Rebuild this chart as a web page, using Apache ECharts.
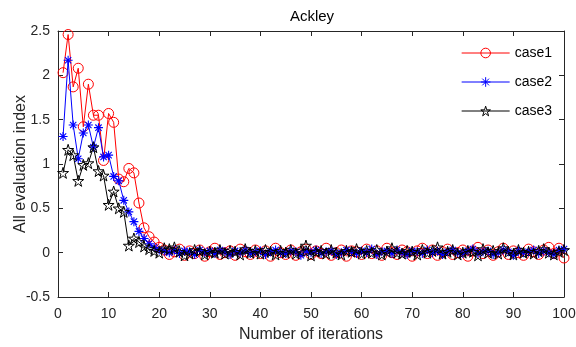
<!DOCTYPE html>
<html>
<head>
<meta charset="utf-8">
<script src="https://cdn.jsdelivr.net/npm/echarts@6/dist/echarts.min.js"></script>
<style>
  html, body { margin: 0; padding: 0; background: #fff; }
  #chart { width: 576px; height: 347px; }
</style>
</head>
<body>
<div id="chart"></div>
<script>
// Convergence of the evaluation index on the Ackley function, three cases.
const chartTitle = 'Ackley';
const xLabel = 'Number of iterations';
const yLabel = 'All evaluation index';
const seriesNames = ['case1', 'case2', 'case3'];
const xTicks = [0, 10, 20, 30, 40, 50, 60, 70, 80, 90, 100];
const yTicks = [-0.5, 0, 0.5, 1, 1.5, 2, 2.5];

const case1 = [
  2.03, 2.46, 1.87, 2.08, 1.42, 1.90, 1.55, 1.55, 1.04, 1.57,
  1.47, 0.83, 0.80, 0.95, 0.90, 0.56, 0.28, 0.18, 0.12, 0.06,
  0.03, -0.02, 0.01, 0.04, -0.03, 0.02, -0.01, 0.03, -0.04, 0.01,
  0.05, -0.02, 0.00, 0.02, -0.03, 0.04, 0.01, -0.02, 0.03, -0.01,
  0.02, -0.04, 0.05, 0.00, -0.02, 0.03, -0.03, 0.01, 0.04, -0.02,
  0.02, -0.01, 0.05, -0.03, 0.00, 0.03, -0.04, 0.02, 0.01, -0.02,
  0.04, -0.01, 0.02, -0.03, 0.05, 0.00, -0.02, 0.03, 0.01, -0.04,
  0.02, 0.05, -0.01, 0.03, -0.03, 0.01, 0.04, -0.02, 0.00, 0.03,
  -0.04, 0.02, 0.06, -0.01, 0.03, -0.03, 0.01, 0.05, -0.02, 0.02,
  0.00, -0.03, 0.04, 0.01, -0.02, 0.03, 0.06, -0.01, 0.05, -0.06
];
const case2 = [
  1.31, 2.17, 1.44, 1.06, 1.35, 1.44, 1.19, 1.41, 1.08, 1.10,
  0.86, 0.81, 0.59, 0.46, 0.35, 0.24, 0.16, 0.10, 0.06, 0.03,
  0.02, 0.00, 0.03, -0.01, 0.02, 0.01, -0.02, 0.03, 0.00, 0.02,
  -0.01, 0.03, 0.01, -0.02, 0.02, 0.00, 0.03, -0.01, 0.01, 0.02,
  -0.02, 0.01, 0.03, 0.00, -0.01, 0.02, 0.01, -0.03, 0.02, 0.00,
  0.03, -0.01, 0.01, 0.02, -0.02, 0.00, 0.03, 0.01, -0.01, 0.02,
  0.00, 0.04, -0.02, 0.01, 0.02, -0.01, 0.03, 0.00, -0.02, 0.02,
  0.01, -0.01, 0.03, 0.00, 0.02, -0.02, 0.01, 0.03, 0.00, -0.01,
  0.02, 0.04, -0.01, 0.01, 0.02, -0.02, 0.00, 0.03, 0.01, -0.03,
  0.02, 0.00, 0.01, 0.03, -0.01, 0.02, 0.00, -0.02, 0.03, 0.04
];
const case3 = [
  0.90, 1.16, 1.10, 0.81, 0.99, 1.01, 1.19, 0.92, 0.87, 0.54,
  0.69, 0.50, 0.46, 0.08, 0.16, 0.12, 0.07, 0.04, 0.02, 0.00,
  0.05, 0.04, 0.06, 0.01, -0.03, -0.01, 0.03, 0.02, -0.02, 0.01,
  0.00, 0.03, -0.01, 0.02, 0.01, -0.02, 0.04, 0.00, 0.02, -0.01,
  0.03, 0.01, -0.02, 0.02, 0.00, 0.03, -0.01, 0.02, 0.08, -0.03,
  0.01, 0.02, -0.01, 0.03, 0.00, -0.02, 0.02, 0.01, 0.04, -0.01,
  0.02, 0.00, 0.03, -0.02, 0.01, 0.05, 0.00, -0.01, 0.02, 0.01,
  -0.02, 0.03, 0.00, 0.02, 0.06, -0.01, 0.01, 0.03, -0.02, 0.00,
  0.02, 0.01, -0.03, 0.04, 0.00, 0.02, -0.01, 0.05, 0.01, -0.02,
  0.03, 0.00, 0.01, -0.01, 0.02, 0.04, 0.00, -0.02, 0.01, 0.03
];

// Iteration numbers 1..N pair with each value
const toPairs = arr => arr.map((v, i) => [i + 1, v]);

const asteriskPath = 'path://M0 5L10 5M5 0L5 10M1.5 1.5L8.5 8.5M1.5 8.5L8.5 1.5';
const starPath = 'path://M10 0L12.245 6.91L19.511 6.91L13.633 11.18L15.878 18.09L10 13.82L4.122 18.09L6.367 11.18L0.489 6.91L7.755 6.91Z';

const font = '"Liberation Sans", Arial, Helvetica, sans-serif';
const axisColor = '#262626';
const clear = 'rgba(0,0,0,0)';

const styles = [
  { color: '#ff0000', symbol: 'circle', size: 10, bw: 1 },
  { color: '#0000ff', symbol: asteriskPath, size: 9, bw: 1.1 },
  { color: '#000000', symbol: starPath, size: 11, bw: 1 }
];
const values = [case1, case2, case3];

const baseX = {
  type: 'value', min: 0, max: 100, interval: 10,
  axisLine: { show: true, onZero: false, lineStyle: { color: axisColor, width: 1 } },
  axisTick: { show: true, inside: true, length: 5, lineStyle: { color: axisColor } },
  splitLine: { show: false }
};
const baseY = {
  type: 'value', min: -0.5, max: 2.5, interval: 0.5,
  axisLine: { show: true, onZero: false, lineStyle: { color: axisColor, width: 1 } },
  axisTick: { show: true, inside: true, length: 5, lineStyle: { color: axisColor } },
  splitLine: { show: false }
};

const chart = echarts.init(document.getElementById('chart'), null, { renderer: 'canvas' });

chart.setOption({
  animation: false,
  backgroundColor: '#fff',
  title: {
    text: chartTitle, left: 307, top: 4, textAlign: 'center',
    textStyle: { fontFamily: font, fontSize: 15, fontWeight: 'normal', color: '#000' }
  },
  grid: { left: 58, right: 12, top: 31, bottom: 50, containLabel: false, outerBoundsMode: 'none' },
  xAxis: [
    Object.assign({}, baseX, {
      position: 'bottom',
      name: xLabel, nameLocation: 'middle', nameGap: 30, nameMoveOverlap: false,
      nameTextStyle: { fontFamily: font, fontSize: 16, color: '#262626' },
      axisLabel: {
        fontFamily: font, fontSize: 14, color: '#262626', margin: 10,
        formatter: v => xTicks.includes(v) ? String(v) : ''
      }
    }),
    Object.assign({}, baseX, { position: 'top', axisLabel: { show: false } })
  ],
  yAxis: [
    Object.assign({}, baseY, {
      position: 'left',
      name: yLabel, nameLocation: 'middle', nameGap: 29, nameMoveOverlap: false,
      nameTextStyle: { fontFamily: font, fontSize: 16, color: '#262626' },
      axisLabel: {
        fontFamily: font, fontSize: 14, color: '#262626', margin: 8,
        formatter: v => yTicks.includes(v) ? String(v) : ''
      }
    }),
    Object.assign({}, baseY, { position: 'right', axisLabel: { show: false } })
  ],
  legend: {
    orient: 'vertical', right: 20, top: 42,
    itemWidth: 48, itemHeight: 12, itemGap: 15,
    backgroundColor: '#fff', borderWidth: 0,
    padding: [4, 4, 4, 0],
    textStyle: { fontFamily: font, fontSize: 14, color: '#000' },
    data: seriesNames.map((n, i) => ({
      name: n,
      itemStyle: { color: clear, borderColor: styles[i].color, borderWidth: 1 },
      lineStyle: { color: styles[i].color, width: 1 }
    }))
  },
  series: seriesNames.map((n, i) => ({
    name: n, type: 'line', data: toPairs(values[i]),
    symbol: styles[i].symbol, symbolSize: styles[i].size,
    lineStyle: { color: styles[i].color, width: 1 },
    itemStyle: { color: clear, borderColor: styles[i].color, borderWidth: styles[i].bw },
    z: 2 + i
  }))
});
</script>
</body>
</html>
